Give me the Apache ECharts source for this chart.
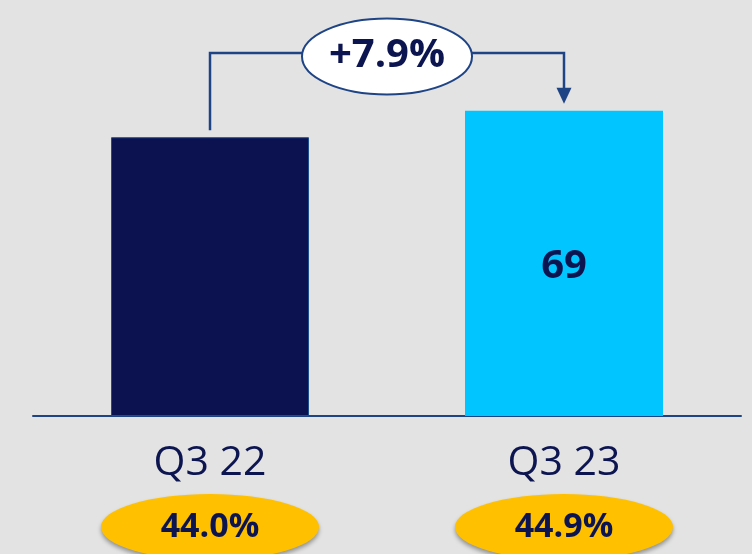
<!DOCTYPE html>
<html style="height: 100%">
<head>
<meta charset="utf-8">
<script src="https://cdn.jsdelivr.net/npm/echarts@6/dist/echarts.min.js"></script>
<title>Q3 comparison</title>
</head>
<body style="height: 100%; margin: 0; background: #e3e3e3">
<div id="container" style="width: 752px; height: 554px"></div>
<script type="text/javascript">

const categories = ['Q3 22', 'Q3 23'];
const values = [63, 69];
const barColors = ['#0c1150', '#00c5ff'];
const margins = ['44.0%', '44.9%'];
const growth = '+7.9%';

const navy = '#0c1550';
const lineBlue = '#1f4486';
const font = 'Open Sans';

let dom = document.getElementById('container');
let chart = echarts.init(dom);

chart.setOption({
    backgroundColor: '#e3e3e3',
    animation: false,
    grid: [
        {left: 33, right: 11, top: 62, bottom: 138},
        {left: 33, right: 11, top: 500, height: 66}
    ],
    xAxis: [
        {
            type: 'category', data: categories, gridIndex: 0,
            axisLine: {lineStyle: {color: lineBlue, width: 2}},
            axisTick: {show: false},
            axisLabel: {color: navy, fontSize: 41, fontFamily: font, margin: 27}
        },
        {type: 'category', data: categories, gridIndex: 1, show: false}
    ],
    yAxis: [
        {type: 'value', min: 0, max: 80, show: false, gridIndex: 0},
        {type: 'value', min: 0, max: 1, show: false, gridIndex: 1}
    ],
    series: [
        {
            type: 'bar',
            barWidth: 198,
            data: values.map((v, i) => ({
                value: v,
                itemStyle: {
                    color: barColors[i],
                    borderColor: i === 0 ? '#1f4e8c' : barColors[i],
                    borderWidth: i === 0 ? 1 : 0
                },
                label: {show: i === 1}
            })),
            label: {
                position: 'inside', offset: [0, 3], color: navy, fontSize: 40,
                fontWeight: 'bold', fontFamily: font
            }
        },
        {
            type: 'scatter',
            xAxisIndex: 1, yAxisIndex: 1,
            clip: false,
            symbol: 'circle',
            symbolSize: [218, 66],
            data: margins.map((m, i) => [categories[i], 0.5]),
            itemStyle: {
                color: '#ffc000', opacity: 1,
                shadowBlur: 4, shadowOffsetY: 3, shadowColor: 'rgba(0,0,0,0.35)'
            },
            label: {
                show: true, position: 'inside',
                formatter: p => margins[p.dataIndex],
                color: navy, fontSize: 34, fontWeight: 'bold', fontFamily: font
            }
        }
    ]
});

// growth bracket, placed from the bar tops
let p1 = chart.convertToPixel({seriesIndex: 0}, [0, values[0]]);
let p2 = chart.convertToPixel({seriesIndex: 0}, [1, values[1]]);
let yTop = 53;
let midX = (p1[0] + p2[0]) / 2;
let tipY = p2[1] - 7;

chart.setOption({
    graphic: [
        {
            type: 'polyline',
            shape: {points: [[p1[0], p1[1] - 7], [p1[0], yTop], [p2[0], yTop], [p2[0], tipY - 14]]},
            style: {stroke: lineBlue, lineWidth: 2.5, fill: null}
        },
        {
            type: 'polygon',
            shape: {points: [[p2[0] - 7.5, tipY - 16], [p2[0] + 7.5, tipY - 16], [p2[0], tipY]]},
            style: {fill: lineBlue}
        },
        {
            type: 'ellipse',
            shape: {cx: midX, cy: 56.5, rx: 85, ry: 38},
            style: {fill: '#ffffff', stroke: lineBlue, lineWidth: 2}
        },
        {
            type: 'text',
            x: midX, y: 56,
            style: {
                text: growth, fill: navy, font: 'bold 40px "Open Sans"',
                align: 'center', verticalAlign: 'middle'
            }
        }
    ]
});

</script>
</body>
</html>
